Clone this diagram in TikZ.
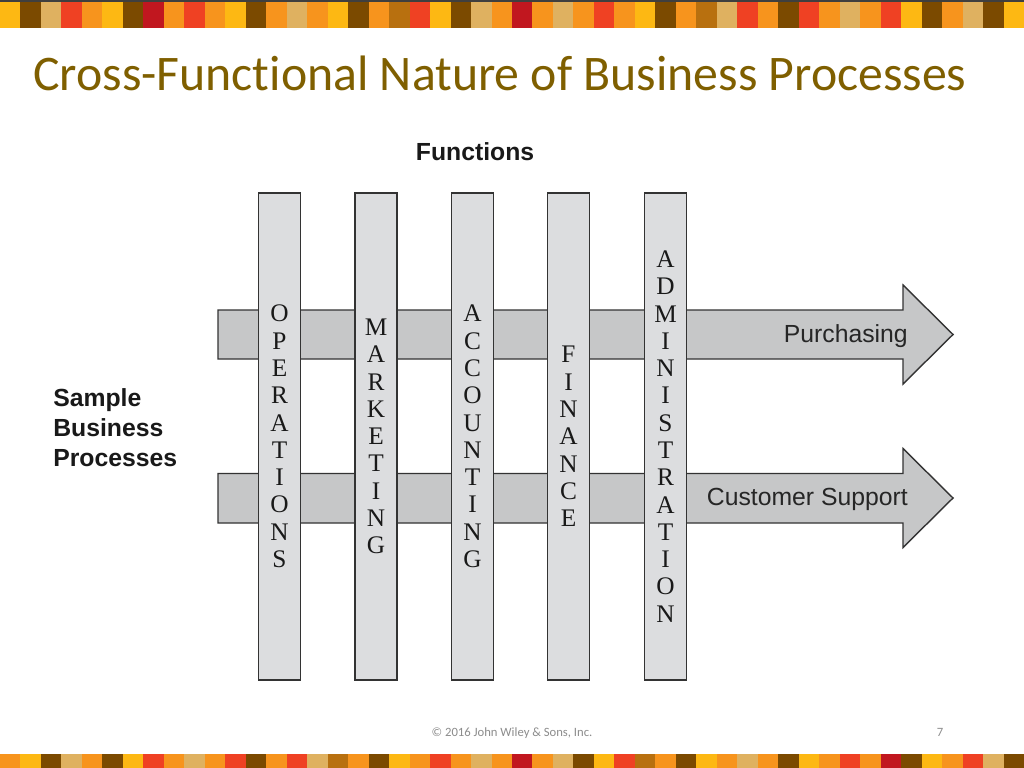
\documentclass[tikz,border=0pt]{standalone}
\usepackage{fontspec}
\setmainfont{Liberation Serif}
\setsansfont{Liberation Sans}
\newfontfamily\slidefont[Ligatures=NoCommon]{Carlito}
\usepackage{xcolor}

\definecolor{stripY}{HTML}{FDB813}
\definecolor{stripB}{HTML}{7B4A00}
\definecolor{stripT}{HTML}{DFB160}
\definecolor{stripR}{HTML}{EF4123}
\definecolor{stripO}{HTML}{F7941D}
\definecolor{stripD}{HTML}{C1171F}
\definecolor{stripM}{HTML}{B8700F}
\definecolor{topline}{HTML}{3F3F3F}
\definecolor{titlebrown}{HTML}{7F5F00}
\definecolor{barline}{HTML}{333333}
\definecolor{colfill}{HTML}{DCDDDF}
\definecolor{arrowfill}{HTML}{C6C7C8}
\definecolor{footgray}{HTML}{8C8C8C}

\begin{document}
\begin{tikzpicture}[x=0.025cm, y=-0.025cm,
  funcbar/.style={draw=barline, line width=1pt, fill=colfill, minimum width=1.05cm,
    minimum height=12.175cm, inner sep=0pt, align=center, text=black!90,
    font=\fontsize{18}{19.4}\selectfont},
  procarrow/.style={draw=barline, line width=1pt, fill=arrowfill, line join=miter},
  proclabel/.style={anchor=base east, inner sep=0pt, text=black!85,
    font=\sffamily\fontsize{17.6}{20}\selectfont},
  sidelabel/.style={inner sep=0pt, text=black!90,
    font=\sffamily\bfseries\fontsize{17.6}{21.3}\selectfont}]

  \useasboundingbox (0,0) rectangle (1024,768);
  \fill[white] (0,0) rectangle (1024,768);

  % ==========================================
  % Slide frame: coloured stripes and title
  % ==========================================
  \fill[topline] (0,0) rectangle (1024,2);
  \foreach \c [count=\i from 0] in {Y,B,T,R,O,Y,B,D,O,R,O,Y,B,O,T,O,Y,B,O,M,R,Y,B,T,O,D,O,T,O,R,O,Y,B,O,M,T,R,O,B,R,O,T,O,R,Y,B,O,T,B,Y}
    \fill[strip\c] (\i*20.48,2) rectangle ++(20.48,26);
  \foreach \c [count=\i from 0] in {O,Y,B,T,O,B,Y,R,O,T,O,R,B,O,R,T,M,O,B,Y,O,R,O,T,O,D,O,T,B,Y,R,M,O,B,Y,O,T,O,B,Y,O,R,O,D,B,Y,O,R,T,B}
    \fill[strip\c] (\i*20.48,754) rectangle ++(20.48,14);

  \node[anchor=base west, inner sep=0pt, text=titlebrown,
    font=\slidefont\fontsize{35.4}{40}\selectfont] (title) at (33,91)
    {Cross-Functional Nature of Business Processes};

  % ==========================================
  % Process arrows (drawn below the columns)
  % ==========================================
  \draw[procarrow] (218,310) -- (903,310) -- (903,285) -- (953,334.5)
    -- (903,384) -- (903,359) -- (218,359) -- cycle;
  \draw[procarrow] (218,473.5) -- (903,473.5) -- (903,448.5) -- (953,498)
    -- (903,547.5) -- (903,523) -- (218,523) -- cycle;

  % ==========================================
  % Function columns
  % ==========================================
  \node[funcbar] (ops) at (279.5,436.5) {O\\P\\E\\R\\A\\T\\I\\O\\N\\S};
  \node[funcbar] (mkt) at (376,436.5) {M\\A\\R\\K\\E\\T\\I\\N\\G};
  \node[funcbar] (acct) at (472.5,436.5) {A\\C\\C\\O\\U\\N\\T\\I\\N\\G};
  \node[funcbar] (fin) at (568.5,436.5) {F\\I\\N\\A\\N\\C\\E};
  \node[funcbar] (admin) at (665.5,436.5) {A\\D\\M\\I\\N\\I\\S\\T\\R\\A\\T\\I\\O\\N};

  % Labels
  \node[proclabel] (purch) at (908,342.5) {Purchasing};
  \node[proclabel] (cust) at (908,505.5) {Customer Support};
  \node[sidelabel, anchor=base] (functions) at (475,160.5) {Functions};
  \node[sidelabel, anchor=west, align=left] (sample) at (53,428)
    {Sample\\Business\\Processes};

  % Footer
  \node[inner sep=0pt, anchor=base, text=footgray,
    font=\slidefont\fontsize{9}{10}\selectfont] (copyright) at (512,736.5)
    {\textcopyright{} 2016 John Wiley \& Sons, Inc.};
  \node[inner sep=0pt, anchor=base, text=footgray,
    font=\slidefont\fontsize{9}{10}\selectfont] (pagenum) at (940,736.5) {7};

\end{tikzpicture}
\end{document}
